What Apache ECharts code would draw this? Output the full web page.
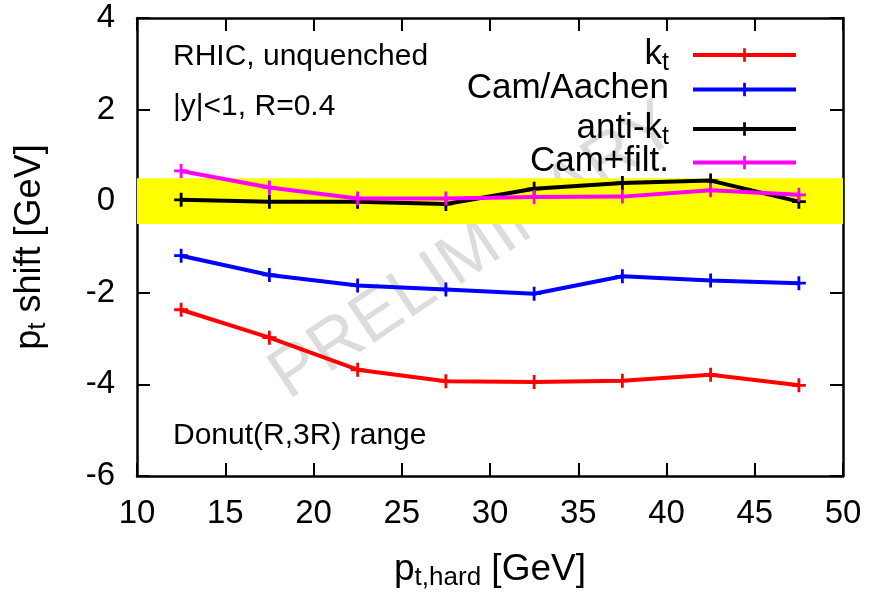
<!DOCTYPE html>
<html><head><meta charset="utf-8">
<script src="https://cdn.jsdelivr.net/npm/echarts@6/dist/echarts.min.js"></script>
<style>html,body{margin:0;padding:0;background:#fff}#c{width:870px;height:596px}</style>
</head><body><div id="c"></div>
<script>
const xValues = [12.5, 17.5, 22.5, 27.5, 32.5, 37.5, 42.5, 47.5];
const kt = [-2.37, -2.98, -3.68, -3.93, -3.95, -3.92, -3.79, -4.02];
const camAachen = [-1.19, -1.61, -1.84, -1.93, -2.02, -1.64, -1.73, -1.79];
const antiKt = [0.03, -0.01, -0.01, -0.06, 0.27, 0.40, 0.45, -0.01];
const camFilt = [0.66, 0.30, 0.06, 0.06, 0.09, 0.10, 0.24, 0.14];
const seriesNames = ['k_t', 'Cam/Aachen', 'anti-k_t', 'Cam+filt.'];
const band = [-0.5, 0.5];
const annotations = ['RHIC, unquenched', '|y|<1, R=0.4', 'Donut(R,3R) range'];
const watermark = 'PRELIMINARY';

const FONT = 'Liberation Sans';
const plus = 'path://M4,0H6V4H10V6H6V10H4V6H0V4H4Z';
const colors = ['#ff0000', '#0000ff', '#000000', '#ff00ff'];
const dataSets = [kt, camAachen, antiKt, camFilt];
const legendTops = [29, 66, 103, 139];

const chart = echarts.init(document.getElementById('c'), null, {renderer: 'canvas'});
const series = dataSets.map((d, i) => ({
  name: seriesNames[i],
  type: 'line',
  data: d.map((v, j) => [xValues[j], v]),
  symbol: plus,
  symbolSize: 14,
  showAllSymbol: true,
  itemStyle: {color: colors[i]},
  lineStyle: {color: colors[i], width: 4},
  z: 3 + i,
  animation: false
}));
series[0].markArea = {
  silent: true,
  itemStyle: {color: '#ffff00', opacity: 1},
  data: [[{yAxis: band[0]}, {yAxis: band[1]}]]
};

const axisCommon = {
  type: 'value', min: 10, max: 50, interval: 5,
  axisLine: {onZero: false, lineStyle: {color: '#000', width: 2.5}},
  axisTick: {inside: true, length: 13, lineStyle: {color: '#000', width: 2}},
  splitLine: {show: false}
};
const yCommon = {
  type: 'value', min: -6, max: 4, interval: 2,
  axisLine: {onZero: false, lineStyle: {color: '#000', width: 2.5}},
  axisTick: {inside: true, length: 13, lineStyle: {color: '#000', width: 2}},
  splitLine: {show: false}
};
const sub = (big, small) => ({
  a: {fontSize: big, fontFamily: FONT, color: '#000'},
  s: {fontSize: small, fontFamily: FONT, color: '#000', padding: [Math.round(big * 0.45), 0, 0, 0]}
});

const legendBase = {
  right: 67, orient: 'vertical', align: 'right',
  itemWidth: 103, itemHeight: 17, itemGap: 0,
  lineStyle: {width: 4},
  formatter: function (n) {
    const m = n.match(/^(.*)_(.)$/);
    return (m ? '{a|' + m[1] + '}{s|' + m[2] + '}' : '{a|' + n + '}') + '{g| }';
  },
  textStyle: {fontSize: 35, lineHeight: 37, fontFamily: FONT, color: '#000', rich: {
    a: {fontSize: 35, lineHeight: 33, verticalAlign: 'top', fontFamily: FONT, color: '#000'},
    s: {fontSize: 25, lineHeight: 20, padding: [17, 0, 0, 0], fontFamily: FONT, color: '#000'},
    g: {fontSize: 10, width: 19, lineHeight: 37}
  }}
};

chart.setOption({
  animation: false,
  textStyle: {fontFamily: FONT},
  grid: {left: 137, right: 27, top: 18, bottom: 115},
  xAxis: [
    Object.assign({}, axisCommon, {
      position: 'bottom',
      axisLabel: {fontSize: 33, color: '#000', margin: 21, fontFamily: FONT},
      name: '{a|p}{s|t,hard}{a| [GeV]}',
      nameLocation: 'middle', nameGap: 72,
      nameTextStyle: {rich: sub(37, 26)}
    }),
    Object.assign({}, axisCommon, {position: 'top', axisLabel: {show: false}})
  ],
  yAxis: [
    Object.assign({}, yCommon, {
      position: 'left',
      axisLabel: {fontSize: 33, color: '#000', margin: 22, fontFamily: FONT},
      name: '{a|p}{s|t}{a| shift [GeV]}',
      nameLocation: 'middle', nameGap: 86, nameRotate: 90,
      nameTextStyle: {rich: sub(36, 26)}
    }),
    Object.assign({}, yCommon, {position: 'right', axisLabel: {show: false}})
  ],
  legend: seriesNames.map((n, i) => Object.assign({}, legendBase, {top: legendTops[i], data: [n]})),
  graphic: [
    {type: 'text', z: 0, zlevel: 0, silent: true, x: 474, y: 252, rotation: 34 * Math.PI / 180,
     style: {text: watermark, font: '70px "' + FONT + '"', fill: '#dcdcdc', align: 'center', verticalAlign: 'middle'}},
    {type: 'text', z: 10, x: 173, y: 57, style: {text: annotations[0], font: '30px "' + FONT + '"', fill: '#000', verticalAlign: 'middle'}},
    {type: 'text', z: 10, x: 173, y: 107, style: {text: annotations[1], font: '30px "' + FONT + '"', fill: '#000', verticalAlign: 'middle'}},
    {type: 'text', z: 10, x: 173, y: 436, style: {text: annotations[2], font: '30px "' + FONT + '"', fill: '#000', verticalAlign: 'middle'}}
  ],
  series: series
});
</script></body></html>
